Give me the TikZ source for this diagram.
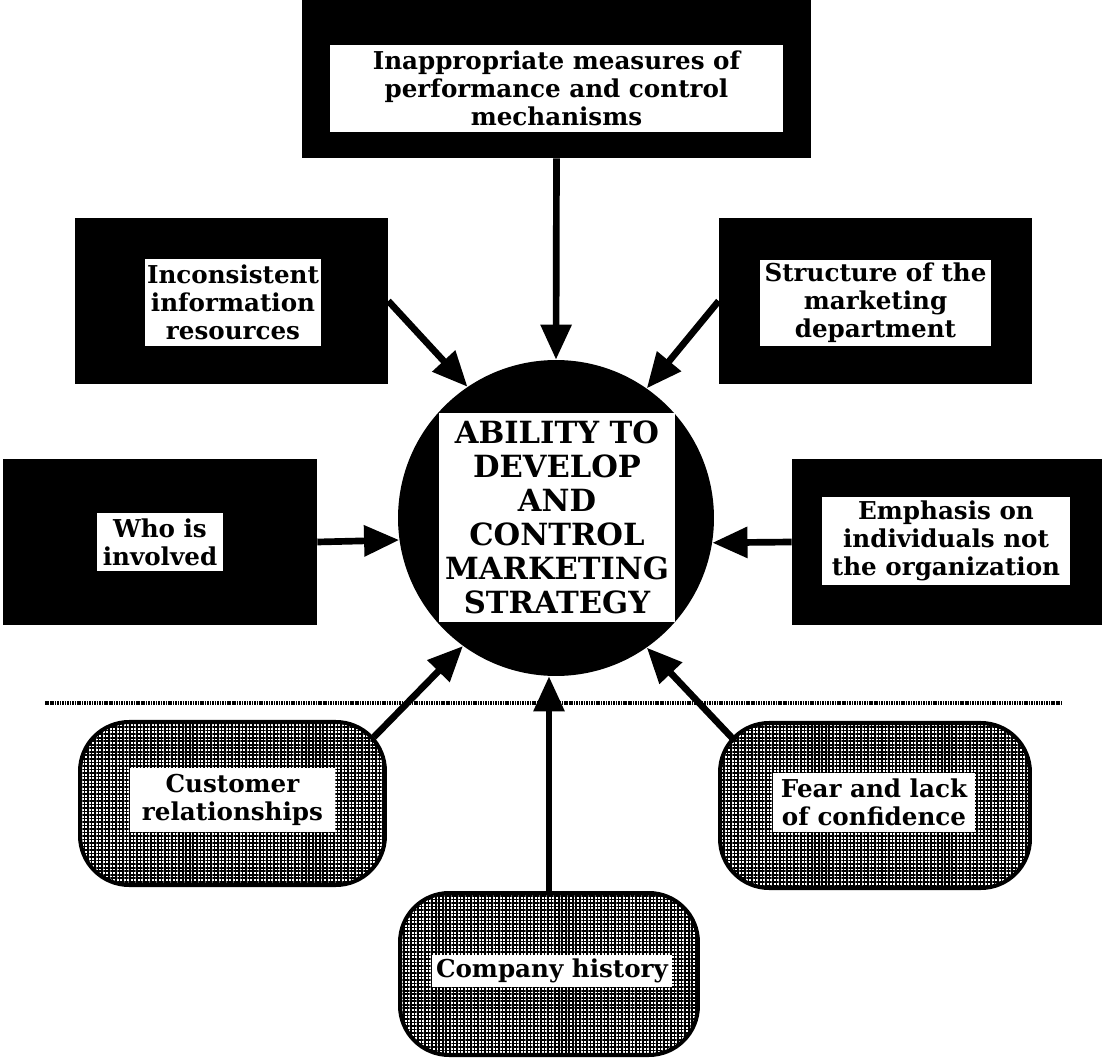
\documentclass[tikz,border=0pt]{standalone}
\usepackage{fontspec}
\setmainfont{DejaVu Serif}
\usetikzlibrary{arrows.meta,calc,patterns.meta}

\begin{document}
\begin{tikzpicture}[x=0.02cm,y=-0.02cm,
  darkbox/.style={fill=black,draw=none,inner sep=0pt},
  label/.style={fill=white,inner sep=0pt,align=center,
    font=\bfseries\fontsize{14}{15.9}\selectfont},
  biglabel/.style={fill=white,inner sep=0pt,align=center,
    font=\bfseries\fontsize{17.4}{19.3}\selectfont},
  softbox/.style={draw=black,line width=2.3pt,rounded corners=28pt,inner sep=0pt,
    preaction={fill=white},
    preaction={pattern={Lines[angle=0,distance=2pt,line width=0.9pt]}},
    pattern={Lines[angle=90,distance=2pt,line width=0.9pt]}},
  conn/.style={line width=3.8pt,-{Triangle[length=20pt,width=17pt]}},
  divider/.style={line width=2.4pt,dash pattern=on 0.9pt off 0.5pt}]

\path[use as bounding box] (0,0) rectangle (1103,1061);

% upper factors: black panels with white captions
\node[darkbox,minimum width=10.18cm,minimum height=3.16cm] (top) at (556.5,79) {};
\node[label,minimum width=9.06cm,minimum height=1.74cm] (topt) at (556.5,88.5)
  {Inappropriate measures of\\performance and control\\mechanisms};

\node[darkbox,minimum width=6.26cm,minimum height=3.32cm] (inc) at (231.5,301) {};
\node[label,minimum width=3.52cm,minimum height=1.74cm] (inct) at (233,302.5)
  {Inconsistent\\information\\resources};

\node[darkbox,minimum width=6.26cm,minimum height=3.32cm] (struc) at (875.5,301) {};
\node[label,minimum width=4.62cm,minimum height=1.72cm] (struct) at (875.5,303)
  {Structure of the\\marketing\\department};

\node[darkbox,minimum width=6.28cm,minimum height=3.32cm] (who) at (160,542) {};
\node[label,minimum width=2.52cm,minimum height=1.16cm] (whot) at (160,542)
  {Who is\\involved};

\node[darkbox,minimum width=6.2cm,minimum height=3.32cm] (emph) at (947,542) {};
\node[label,minimum width=4.96cm,minimum height=1.76cm] (empht) at (946,541)
  {Emphasis on\\individuals not\\the organization};

% central goal
\node[circle,fill=black,inner sep=0pt,minimum size=6.32cm] (circ) at (556,518) {};
\node[biglabel,minimum width=4.72cm,minimum height=4.18cm] (circt) at (557,517.5)
  {ABILITY TO\\DEVELOP\\AND\\CONTROL\\MARKETING\\STRATEGY};

% separator between the two groups
\draw[divider] (45,703) -- (1062,703);

% lower factors: shaded rounded panels
\node[softbox,minimum width=6.1cm,minimum height=3.26cm] (cust) at (232.5,803.5) {};
\node[label,minimum width=4.1cm,minimum height=1.28cm] (custt) at (232.5,800)
  {Customer\\relationships};

\node[softbox,minimum width=6.2cm,minimum height=3.3cm] (fear) at (875,805.5) {};
\node[label,minimum width=4.04cm,minimum height=1.18cm] (feart) at (874,802.5)
  {Fear and lack\\of confidence};

\node[softbox,minimum width=5.96cm,minimum height=3.24cm] (comp) at (549,974) {};
\node[label,minimum width=4.8cm,minimum height=0.64cm] (compt) at (552,971)
  {Company history};

% influences on the goal
\draw[conn] (top.south) -- (circ.north);
\draw[conn] (inc.east) -- (circ.124.1);
\draw[conn] (struc.west) -- (circ.55.9);
\draw[conn] (who.east) -- (circ.188.7);
\draw[conn] (emph.west) -- (circ.351.3);
\draw[conn] ($(cust.north east)+(-12,16)$) -- (circ.234.8);
\draw[conn] ($(fear.north west)+(17,20)$) -- (circ.305.2);
\draw[conn] (comp.north) -- (comp.north |- circ.south);

\end{tikzpicture}
\end{document}
